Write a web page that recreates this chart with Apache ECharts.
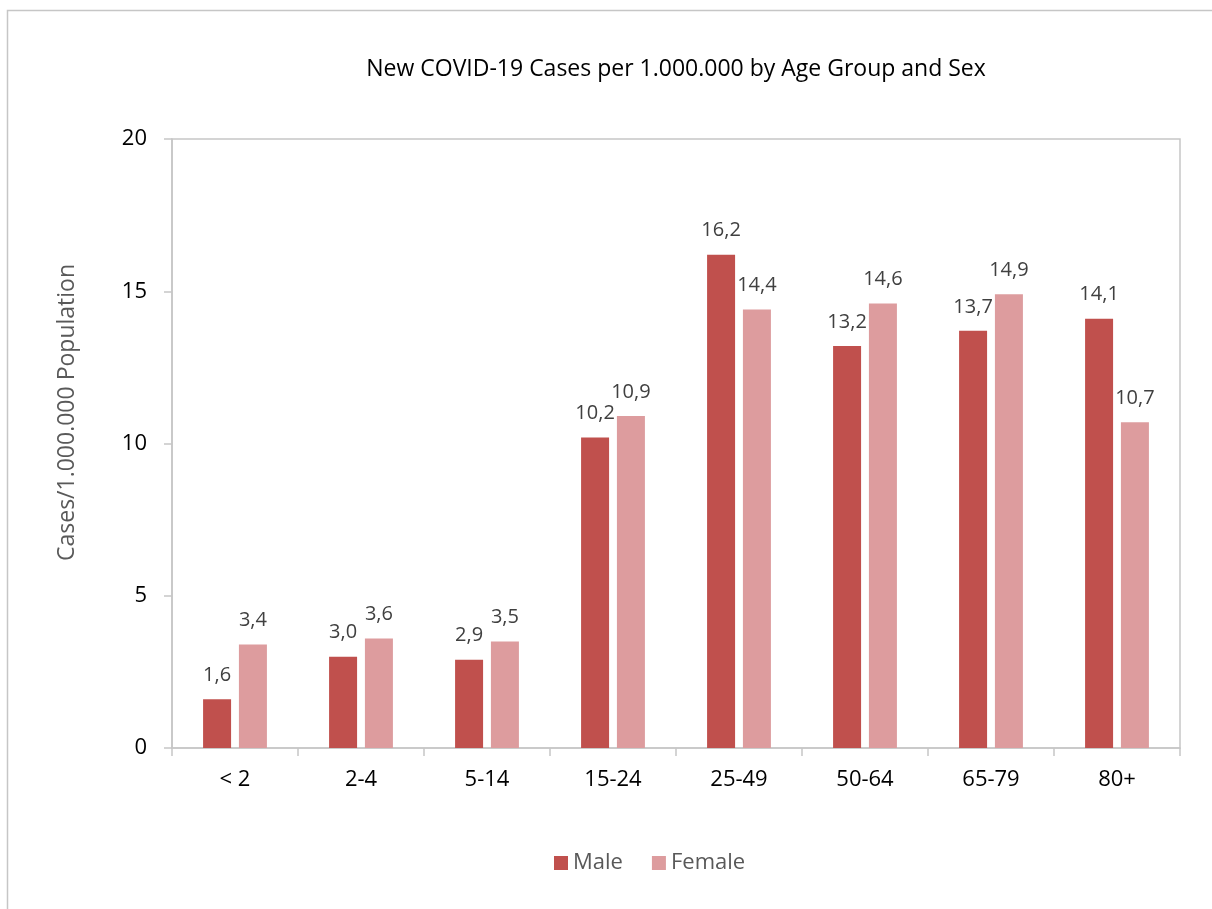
<!DOCTYPE html>
<html>
<head>
<meta charset="utf-8">
<script src="https://cdn.jsdelivr.net/npm/echarts@6/dist/echarts.min.js"></script>
<style>
html,body{margin:0;padding:0;background:#fff;}
#c{width:1212px;height:909px;}
</style>
</head>
<body>
<div id="c"></div>
<script>
const categories = ['< 2', '2-4', '5-14', '15-24', '25-49', '50-64', '65-79', '80+'];
const maleValues = [1.6, 3.0, 2.9, 10.2, 16.2, 13.2, 13.7, 14.1];
const femaleValues = [3.4, 3.6, 3.5, 10.9, 14.4, 14.6, 14.9, 10.7];
const yTicks = [0, 5, 10, 15, 20];

const FONT = '"Open Sans", "Noto Sans", sans-serif';
const chart = echarts.init(document.getElementById('c'));
const fmt = p => p.value.toFixed(1).replace('.', ',');
chart.setOption({
  animation: false,
  backgroundColor: '#fff',
  textStyle: { fontFamily: FONT },
  graphic: [{
    type: 'rect',
    shape: { x: 7.5, y: 10.5, width: 1300, height: 1000 },
    style: { fill: 'none', stroke: '#c6c6c6', lineWidth: 1.5 },
    silent: true
  }],
  title: {
    text: 'New COVID-19 Cases per 1.000.000 by Age Group and Sex',
    left: 671, top: 53, textAlign: 'center',
    textStyle: { fontFamily: FONT, fontSize: 23, fontWeight: 'normal', color: '#000' }
  },
  legend: {
    data: ['Male', 'Female'],
    left: 549, top: 847,
    itemWidth: 14, itemHeight: 14, itemGap: 29,
    icon: 'rect',
    textStyle: { fontFamily: FONT, fontSize: 22, color: '#595959' }
  },
  grid: {
    left: 172, top: 139, width: 1008, height: 609,
    show: true, borderColor: '#c6c6c6', borderWidth: 1.5, containLabel: false
  },
  xAxis: {
    type: 'category',
    data: categories,
    axisLine: { lineStyle: { color: '#c6c6c6', width: 1.5 } },
    axisTick: { show: true, length: 8, lineStyle: { color: '#c6c6c6', width: 1.5 } },
    axisLabel: { fontFamily: FONT, fontSize: 22, color: '#000', margin: 21 }
  },
  yAxis: {
    type: 'value',
    min: yTicks[0], max: yTicks[yTicks.length - 1], interval: 5,
    name: 'Cases/1.000.000 Population',
    nameLocation: 'middle', nameGap: 93,
    nameTextStyle: { fontFamily: FONT, fontSize: 23, color: '#595959', padding: [0, 0, 0, 62] },
    axisLine: { show: true, lineStyle: { color: '#c6c6c6', width: 1.5 } },
    axisTick: { show: true, length: 8, lineStyle: { color: '#c6c6c6', width: 1.5 } },
    splitLine: { show: false },
    axisLabel: { fontFamily: FONT, fontSize: 22, color: '#000', margin: 25 }
  },
  series: [{
    name: 'Male', type: 'bar', data: maleValues,
    barWidth: 28, barGap: '28%',
    itemStyle: { color: '#c0504d' },
    label: { show: true, position: 'top', distance: 14, formatter: fmt,
      fontFamily: FONT, fontSize: 20, color: '#404040' }
  }, {
    name: 'Female', type: 'bar', data: femaleValues,
    barWidth: 28, barGap: '28%',
    itemStyle: { color: '#dd9c9e' },
    label: { show: true, position: 'top', distance: 14, formatter: fmt,
      fontFamily: FONT, fontSize: 20, color: '#404040' }
  }]
});
</script>
</body>
</html>
